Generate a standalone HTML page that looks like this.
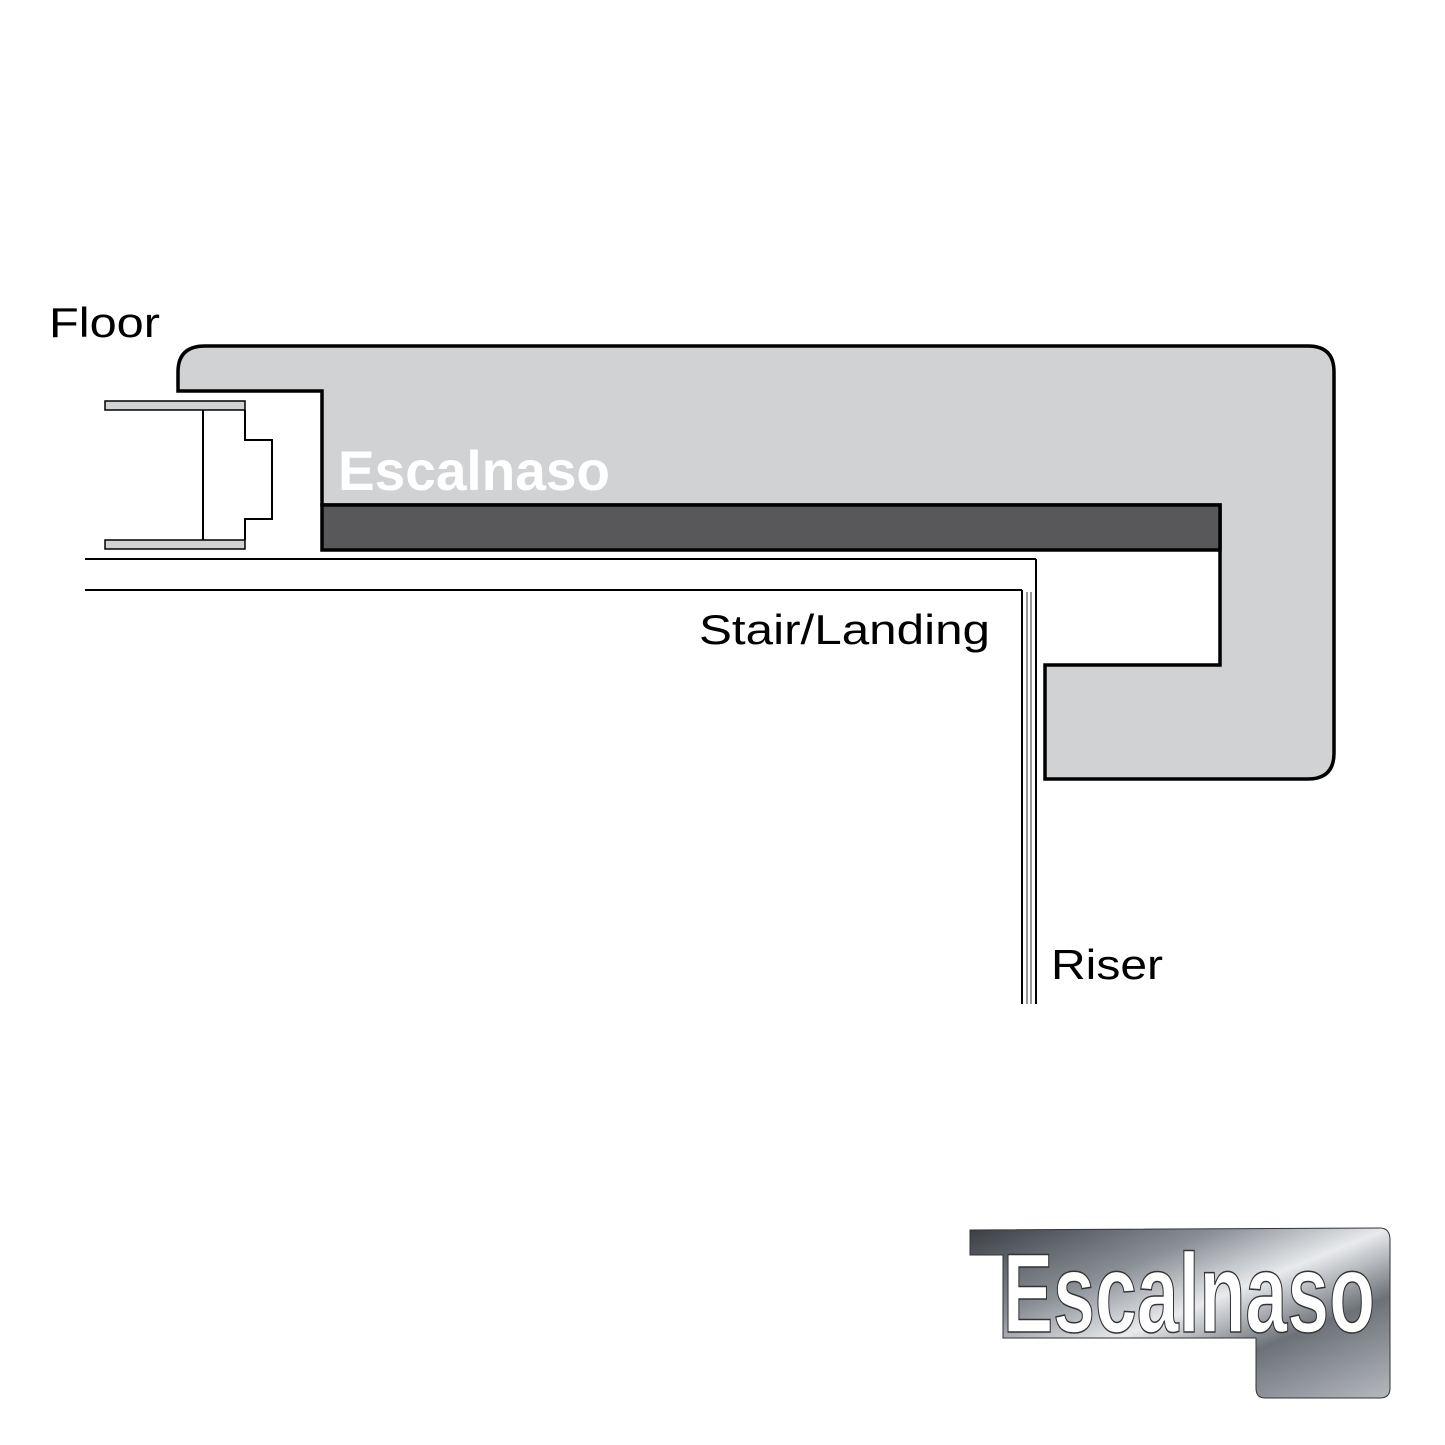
<!DOCTYPE html>
<html><head><style>
html,body{margin:0;padding:0;background:#fff;}
svg{display:block;}
</style></head><body>
<svg width="1445" height="1445" viewBox="0 0 1445 1445" xmlns="http://www.w3.org/2000/svg">
<defs>
<linearGradient id="met" x1="0" y1="0" x2="1" y2="1">
<stop offset="0" stop-color="#3a3e44"/><stop offset="0.3" stop-color="#8a8f96"/>
<stop offset="0.5" stop-color="#e8eaec"/><stop offset="0.7" stop-color="#6c7178"/>
<stop offset="1" stop-color="#b5b9be"/></linearGradient>
</defs>
<text x="49" y="337" font-family="Liberation Sans, sans-serif" font-size="42" fill="#000" textLength="111" lengthAdjust="spacingAndGlyphs">Floor</text>
<path d="M178,391 L178,372 Q178,346 205,346 L1308,346 Q1334,346 1334,372 L1334,753 Q1334,779 1308,779 L1045,779 L1045,665 L1220,665 L1220,505 L322,505 L322,391 Z" fill="#d1d2d4" stroke="#000" stroke-width="3.5"/>
<rect x="322" y="505" width="898" height="45" fill="#58585a" stroke="#000" stroke-width="3.5"/>
<text x="338" y="490" font-family="Liberation Sans, sans-serif" font-weight="bold" font-size="56" fill="#fff" textLength="272" lengthAdjust="spacingAndGlyphs">Escalnaso</text>
<rect x="105" y="401" width="140" height="9" fill="#d1d2d4" stroke="#000" stroke-width="1.5"/>
<rect x="105" y="540" width="140" height="9" fill="#d1d2d4" stroke="#000" stroke-width="1.5"/>
<line x1="203" y1="410" x2="203" y2="540" stroke="#000" stroke-width="2"/>
<polyline points="245,410 245,440 272,440 272,519 245,519 245,540" fill="none" stroke="#000" stroke-width="2"/>
<line x1="85" y1="559" x2="1036" y2="559" stroke="#000" stroke-width="2"/>
<line x1="85" y1="590" x2="1022" y2="590" stroke="#000" stroke-width="2"/>
<line x1="1036" y1="559" x2="1036" y2="1004" stroke="#000" stroke-width="2"/>
<line x1="1022" y1="590" x2="1022" y2="1004" stroke="#000" stroke-width="2"/>
<line x1="1027" y1="592" x2="1027" y2="1004" stroke="#777" stroke-width="1.5"/>
<line x1="1031" y1="592" x2="1031" y2="1004" stroke="#777" stroke-width="1.5"/>
<text x="699" y="644" font-family="Liberation Sans, sans-serif" font-size="42" fill="#000" textLength="291" lengthAdjust="spacingAndGlyphs">Stair/Landing</text>
<text x="1051" y="979" font-family="Liberation Sans, sans-serif" font-size="42" fill="#000" textLength="112" lengthAdjust="spacingAndGlyphs">Riser</text>
<path d="M970,1230 L1380,1228 Q1390,1228 1390,1240 L1390,1388 Q1390,1398 1380,1398 L1265,1398 Q1256,1398 1256,1388 L1256,1338 L1003,1338 L1003,1255 L970,1255 Z" fill="url(#met)" stroke="#333" stroke-width="1"/>
<text x="1003" y="1332" font-family="Liberation Sans, sans-serif" font-weight="bold" font-size="112" fill="#fff" stroke="#333" stroke-width="1.5" textLength="372" lengthAdjust="spacingAndGlyphs">Escalnaso</text>
</svg>
</body></html>
